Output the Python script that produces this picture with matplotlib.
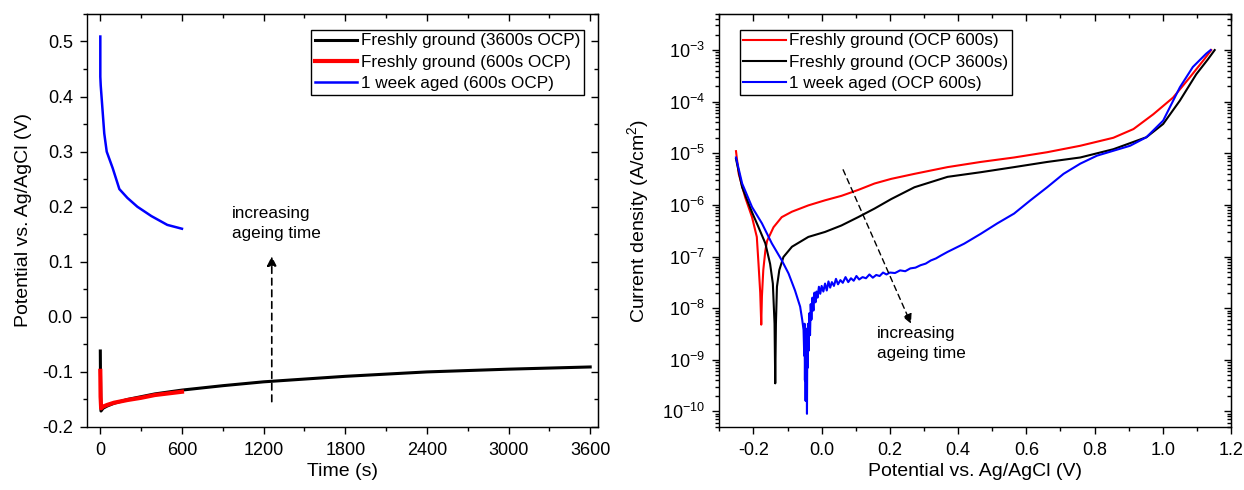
import matplotlib
matplotlib.use("Agg")
import matplotlib.pyplot as plt
from matplotlib.ticker import MultipleLocator, LogLocator, NullFormatter, FormatStrFormatter

plt.rcParams["font.family"] = ["Liberation Sans", "DejaVu Sans"]
plt.rcParams["mathtext.fontset"] = "custom"
plt.rcParams["mathtext.rm"] = "Liberation Sans"
plt.rcParams["mathtext.it"] = "Liberation Sans:italic"
plt.rcParams["font.size"] = 12.3

# --- linke Grafik: OCP ueber die Zeit ---------------------------------------
t_3600 = [0, 1, 5, 20, 50, 100, 200, 300, 400, 600, 900, 1200, 1800, 2400, 3000, 3600]
e_3600 = [-0.062, -0.10, -0.171, -0.166, -0.162, -0.157, -0.150, -0.145, -0.140,
          -0.133, -0.125, -0.118, -0.108, -0.100, -0.095, -0.091]

t_600 = [0, 2, 6, 20, 50, 100, 200, 300, 400, 500, 600]
e_600 = [-0.098, -0.145, -0.166, -0.163, -0.160, -0.156, -0.151, -0.147, -0.142, -0.139, -0.136]

t_aged = [0, 0, 3, 9, 29, 47, 91, 140, 199, 272, 375, 492, 600]
e_aged = [0.509, 0.436, 0.42, 0.40, 0.333, 0.30, 0.27, 0.232, 0.216, 0.200, 0.183, 0.167, 0.160]

# --- rechte Grafik: Polarisationskurven --------------------------------------
u_rot = [-0.251, -0.243, -0.224, -0.204, -0.190, -0.185, -0.180, -0.177, -0.175, -0.171,
         -0.165, -0.160, -0.141, -0.117, -0.087, -0.039, 0.010, 0.058, 0.107, 0.155,
         0.204, 0.272, 0.369, 0.466, 0.564, 0.661, 0.758, 0.855, 0.914, 0.972, 1.030,
         1.079, 1.118, 1.142]
i_rot = [1.1e-5, 4.0e-6, 1.4e-6, 5.8e-7, 2.4e-7, 7.2e-8, 2.0e-8, 4.8e-9, 1.7e-8, 5.5e-8,
         1.3e-7, 2.0e-7, 3.7e-7, 5.8e-7, 7.4e-7, 9.8e-7, 1.23e-6, 1.5e-6, 1.95e-6, 2.6e-6,
         3.2e-6, 4.0e-6, 5.4e-6, 6.8e-6, 8.3e-6, 1.05e-5, 1.4e-5, 2.0e-5, 2.95e-5, 5.7e-5,
         1.2e-4, 2.95e-4, 6.2e-4, 1.0e-3]

u_schwarz = [-0.251, -0.233, -0.204, -0.185, -0.165, -0.151, -0.143, -0.138, -0.136,
             -0.134, -0.131, -0.124, -0.112, -0.087, -0.039, 0.010, 0.058, 0.107, 0.155,
             0.204, 0.272, 0.369, 0.466, 0.564, 0.661, 0.758, 0.855, 0.952, 1.001, 1.050,
             1.098, 1.132, 1.152]
i_schwarz = [7.8e-6, 2.2e-6, 7.2e-7, 3.7e-7, 1.8e-7, 7.2e-8, 3.0e-8, 5e-9, 3.5e-10,
             5e-9, 2.6e-8, 5.5e-8, 9.8e-8, 1.55e-7, 2.4e-7, 3.0e-7, 4.0e-7, 5.8e-7, 8.5e-7,
             1.3e-6, 2.2e-6, 3.5e-6, 4.3e-6, 5.4e-6, 6.8e-6, 8.3e-6, 1.2e-5, 2.05e-5,
             3.7e-5, 1.05e-4, 3.4e-4, 6.6e-4, 1.0e-3]

u_blau = [-0.251, -0.233, -0.204, -0.175, -0.146, -0.117, -0.097, -0.078, -0.063, -0.057,
          -0.053, -0.051, -0.050, -0.049, -0.048, -0.047, -0.046, -0.045, -0.044, -0.043,
          -0.042, -0.041, -0.040, -0.038, -0.036, -0.034, -0.032, -0.030, -0.027, -0.024,
          -0.021, -0.018, -0.015, -0.012, -0.008, -0.004, 0.000, 0.005, 0.010, 0.015,
          0.020, 0.025, 0.030, 0.036, 0.042, 0.048, 0.055, 0.062, 0.070, 0.078, 0.086,
          0.094, 0.102, 0.110, 0.120, 0.130, 0.140, 0.150, 0.160, 0.170, 0.180, 0.190,
          0.200, 0.215, 0.230, 0.245, 0.260, 0.275, 0.290, 0.305, 0.320, 0.335, 0.350,
          0.369, 0.418, 0.466, 0.515, 0.564, 0.612, 0.661, 0.709, 0.758, 0.807, 0.855,
          0.904, 0.952, 1.001, 1.050, 1.088, 1.127, 1.140]
i_blau = [8.3e-6, 2.6e-6, 9.1e-7, 4.4e-7, 1.8e-7, 8.5e-8, 4.7e-8, 2.2e-8, 1.07e-8, 6e-9,
          3.8e-9, 1.2e-9, 5e-9, 4e-10, 3e-9, 1.6e-10, 2.5e-9, 6e-10, 4e-9, 9e-11,
          2e-9, 7e-10, 5e-9, 1.5e-9, 8e-9, 3e-9, 1.2e-8, 6e-9, 1.6e-8, 9e-9,
          2.0e-8, 1.3e-8, 2.1e-8, 1.6e-8, 2.6e-8, 1.9e-8, 2.7e-8, 2.1e-8, 3.0e-8, 2.2e-8,
          3.3e-8, 2.5e-8, 3.2e-8, 2.7e-8, 3.7e-8, 2.9e-8, 3.5e-8, 3.1e-8, 4.0e-8, 3.2e-8, 3.8e-8,
          3.4e-8, 4.2e-8, 3.6e-8, 4.0e-8, 3.8e-8, 4.5e-8, 3.9e-8, 4.4e-8, 4.2e-8, 4.9e-8, 4.5e-8,
          4.9e-8, 4.8e-8, 5.4e-8, 5.2e-8, 5.9e-8, 6.1e-8, 6.8e-8, 7.3e-8, 8.4e-8, 9.2e-8, 1.05e-7,
          1.23e-7, 1.78e-7, 2.75e-7, 4.4e-7, 6.8e-7, 1.23e-6, 2.2e-6, 4.0e-6, 6.3e-6, 9.0e-6, 1.12e-5,
          1.4e-5, 2.05e-5, 4.3e-5, 1.9e-4, 4.7e-4, 8.5e-4, 1.0e-3]

LEGENDE_LINKS = ["Freshly ground (3600s OCP)", "Freshly ground (600s OCP)", "1 week aged (600s OCP)"]
LEGENDE_RECHTS = ["Freshly ground (OCP 600s)", "Freshly ground (OCP 3600s)", "1 week aged (OCP 600s)"]

fig = plt.figure(figsize=(12.44, 4.90), dpi=100)
ax1 = fig.add_axes([0.0697, 0.1286, 0.4113, 0.8429])
ax2 = fig.add_axes([0.5782, 0.1286, 0.4114, 0.8429])

# linke Grafik
ax1.plot(t_3600, e_3600, color="black", lw=2.2, label=LEGENDE_LINKS[0])
ax1.plot(t_600, e_600, color="red", lw=3.0, label=LEGENDE_LINKS[1])
ax1.plot(t_aged, e_aged, color="blue", lw=1.8, label=LEGENDE_LINKS[2])
ax1.set_xlim(-100, 3660)
ax1.set_ylim(-0.2, 0.55)
ax1.xaxis.set_major_locator(MultipleLocator(600))
ax1.xaxis.set_minor_locator(MultipleLocator(300))
ax1.yaxis.set_major_locator(MultipleLocator(0.1))
ax1.yaxis.set_minor_locator(MultipleLocator(0.05))
ax1.yaxis.set_major_formatter(FormatStrFormatter("%.1f"))
ax1.set_xlabel("Time (s)", fontsize=14, labelpad=3)
ax1.set_ylabel("Potential vs. Ag/AgCl (V)", fontsize=14, labelpad=7)
ax1.annotate("", xy=(1260, 0.11), xytext=(1260, -0.154),
             arrowprops=dict(arrowstyle="-|>", linestyle=(0, (4, 3)), color="black",
                             lw=1.2, mutation_scale=14, shrinkA=0, shrinkB=0))
ax1.text(967, 0.202, "increasing\nageing time", ha="left", va="top", linespacing=1.45)
ax1.legend(loc="upper right", bbox_to_anchor=(0.971, 0.961), borderaxespad=0,
           fancybox=False, edgecolor="black", framealpha=1, handlelength=2.5,
           handletextpad=0.2, labelspacing=0.38, borderpad=0.2, fontsize=12.3)

# rechte Grafik
ax2.plot(u_rot, i_rot, color="red", lw=1.5, label=LEGENDE_RECHTS[0])
ax2.plot(u_schwarz, i_schwarz, color="black", lw=1.5, label=LEGENDE_RECHTS[1])
ax2.plot(u_blau, i_blau, color="blue", lw=1.5, label=LEGENDE_RECHTS[2])
ax2.set_yscale("log")
ax2.set_xlim(-0.3, 1.2)
ax2.set_ylim(5e-11, 5e-3)
ax2.xaxis.set_major_locator(MultipleLocator(0.2))
ax2.xaxis.set_minor_locator(MultipleLocator(0.1))
ax2.xaxis.set_major_formatter(FormatStrFormatter("%.1f"))
ax2.yaxis.set_major_locator(LogLocator(base=10, numticks=20))
ax2.yaxis.set_minor_locator(LogLocator(base=10, subs=range(2, 10), numticks=20))
ax2.yaxis.set_minor_formatter(NullFormatter())
ax2.set_xlabel("Potential vs. Ag/AgCl (V)", fontsize=14, labelpad=3)
ax2.set_ylabel("Current density (A/cm$^2$)", fontsize=14, labelpad=8)
ax2.annotate("", xy=(0.262, 5e-9), xytext=(0.063, 4.8e-6),
             arrowprops=dict(arrowstyle="-|>", linestyle=(0, (4, 3)), color="black",
                             lw=1.0, mutation_scale=14, shrinkA=0, shrinkB=0))
ax2.text(0.163, 4.6e-9, "increasing\nageing time", ha="left", va="top", linespacing=1.45)
ax2.legend(loc="upper left", bbox_to_anchor=(0.04, 0.961), borderaxespad=0,
           fancybox=False, edgecolor="black", framealpha=1, handlelength=2.5,
           handletextpad=0.2, labelspacing=0.38, borderpad=0.2, fontsize=12.3)

# Ticks: links/unten nach aussen, oben/rechts nach innen
for ax in (ax1, ax2):
    ax.tick_params(which="major", direction="out", length=5, width=1, labelsize=13)
    ax.tick_params(which="minor", direction="out", length=3, width=1)
    ax.tick_params(axis="x", which="major", pad=6)
    ax.tick_params(axis="y", which="major", pad=5)
    for s in ax.spines.values():
        s.set_linewidth(1.0)

oben1 = ax1.secondary_xaxis("top")
oben1.xaxis.set_major_locator(MultipleLocator(600))
oben1.xaxis.set_minor_locator(MultipleLocator(300))
rechts1 = ax1.secondary_yaxis("right")
rechts1.yaxis.set_major_locator(MultipleLocator(0.1))
rechts1.yaxis.set_minor_locator(MultipleLocator(0.05))
oben2 = ax2.secondary_xaxis("top")
oben2.xaxis.set_major_locator(MultipleLocator(0.2))
oben2.xaxis.set_minor_locator(MultipleLocator(0.1))
rechts2 = ax2.secondary_yaxis("right")
rechts2.yaxis.set_major_locator(LogLocator(base=10, numticks=20))
rechts2.yaxis.set_minor_locator(LogLocator(base=10, subs=range(2, 10), numticks=20))
for sek in (oben1, rechts1, oben2, rechts2):
    sek.tick_params(which="major", direction="in", length=5, width=1)
    sek.tick_params(which="minor", direction="in", length=3, width=1)
    sek.tick_params(which="both", labeltop=False, labelright=False)

fig.savefig("out.png", dpi=100)
